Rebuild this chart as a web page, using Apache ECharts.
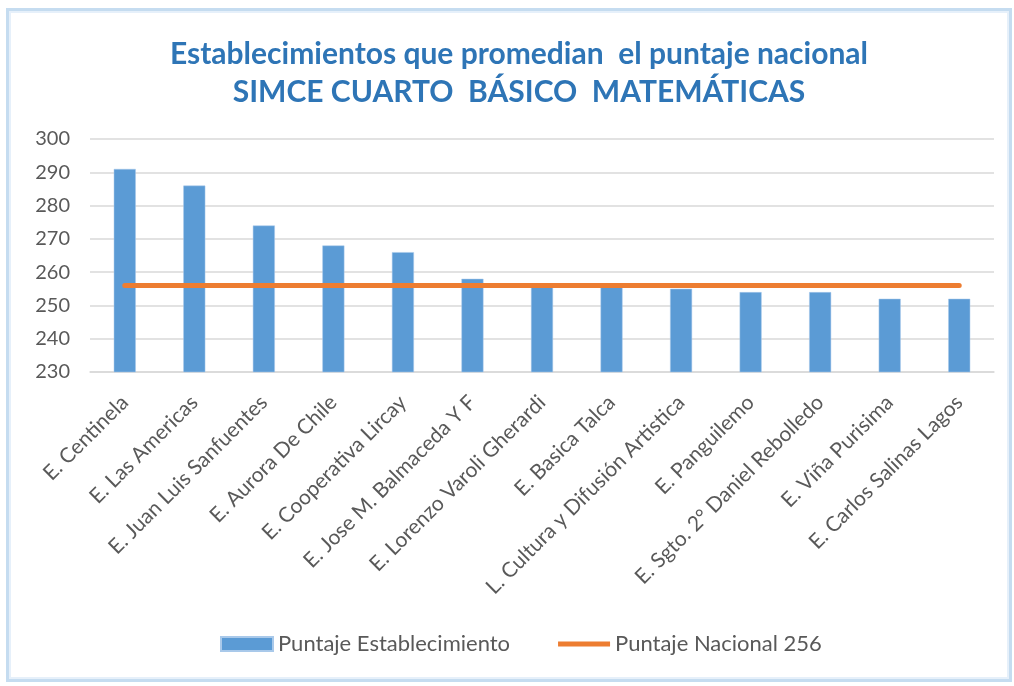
<!DOCTYPE html>
<html>
<head>
<meta charset="utf-8">
<script src="https://cdn.jsdelivr.net/npm/echarts@6/dist/echarts.min.js"></script>
<style>
  html, body { margin: 0; padding: 0; background: #fff; }
  #frame {
    position: absolute; left: 6px; top: 8px; width: 1000px; height: 668px;
    border: 3px solid #c5dcf0; box-shadow: inset 0 0 0 2px #e6f0fa;
  }
  #chart { position: absolute; left: 0; top: 0; width: 1014px; height: 686px; }
</style>
</head>
<body>
<div id="frame"></div>
<div id="chart"></div>
<script>
var categories = [
  "E. Centinela", "E. Las Americas", "E. Juan Luis Sanfuentes", "E. Aurora De Chile",
  "E. Cooperativa Lircay", "E. Jose M. Balmaceda Y F", "E. Lorenzo Varoli Gherardi",
  "E. Basica Talca", "L. Cultura y Difusión Artistica", "E. Panguilemo",
  "E. Sgto. 2° Daniel Rebolledo", "E. Viña Purisima", "E. Carlos Salinas Lagos"
];
var puntajeEstablecimiento = [291, 286, 274, 268, 266, 258, 256, 256, 255, 254, 254, 252, 252];
var puntajeNacional = [256, 256, 256, 256, 256, 256, 256, 256, 256, 256, 256, 256, 256];

var myChart = echarts.init(document.getElementById("chart"));
var font = "Lato, sans-serif";

var option = {
    animation: false,
    title: {
        text: "Establecimientos que promedian  el puntaje nacional\nSIMCE CUARTO  BÁSICO  MATEMÁTICAS",
        left: 514,
        top: 30,
        textAlign: "center",
        textStyle: {
            color: "#2e75b6",
            fontFamily: font,
            fontWeight: "bold",
            fontSize: 30,
            lineHeight: 38
        }
    },
    grid: {
        left: 90,
        right: 20,
        top: 139,
        bottom: 314
    },
    legend: {
        bottom: 26,
        left: 215,
        itemGap: 48,
        itemWidth: 52,
        itemHeight: 14,
        textStyle: { color: "#595959", fontSize: 22, fontFamily: font },
        data: [
            { name: "Puntaje Establecimiento", icon: "rect" },
            { name: "Puntaje Nacional 256", icon: "path://M0,0 L52,0 L52,5 L0,5 Z" }
        ]
    },
    xAxis: {
        type: "category",
        data: categories,
        axisTick: { show: false },
        axisLine: { show: true, lineStyle: { color: "#d9d9d9", width: 1.5 } },
        axisLabel: {
            interval: 0,
            rotate: 45,
            color: "#595959",
            fontSize: 21,
            fontFamily: font,
            margin: 27
        }
    },
    yAxis: {
        type: "value",
        min: 230,
        max: 300,
        interval: 10,
        axisLine: { show: false },
        axisTick: { show: false },
        axisLabel: { color: "#595959", fontSize: 20, fontFamily: font, margin: 20 },
        splitLine: { lineStyle: { color: "#d9d9d9", width: 1.5 } }
    },
    series: [
        {
            name: "Puntaje Establecimiento",
            type: "bar",
            data: puntajeEstablecimiento,
            barWidth: 22,
            itemStyle: { color: "#5b9bd5", borderColor: "#a9c9ea", borderWidth: 0.5 }
        },
        {
            name: "Puntaje Nacional 256",
            type: "line",
            data: puntajeNacional,
            symbol: "none",
            lineStyle: { color: "#ed7d31", width: 5, cap: "round" },
            itemStyle: { color: "#ed7d31" }
        }
    ]
};
myChart.setOption(option);
</script>
</body>
</html>
